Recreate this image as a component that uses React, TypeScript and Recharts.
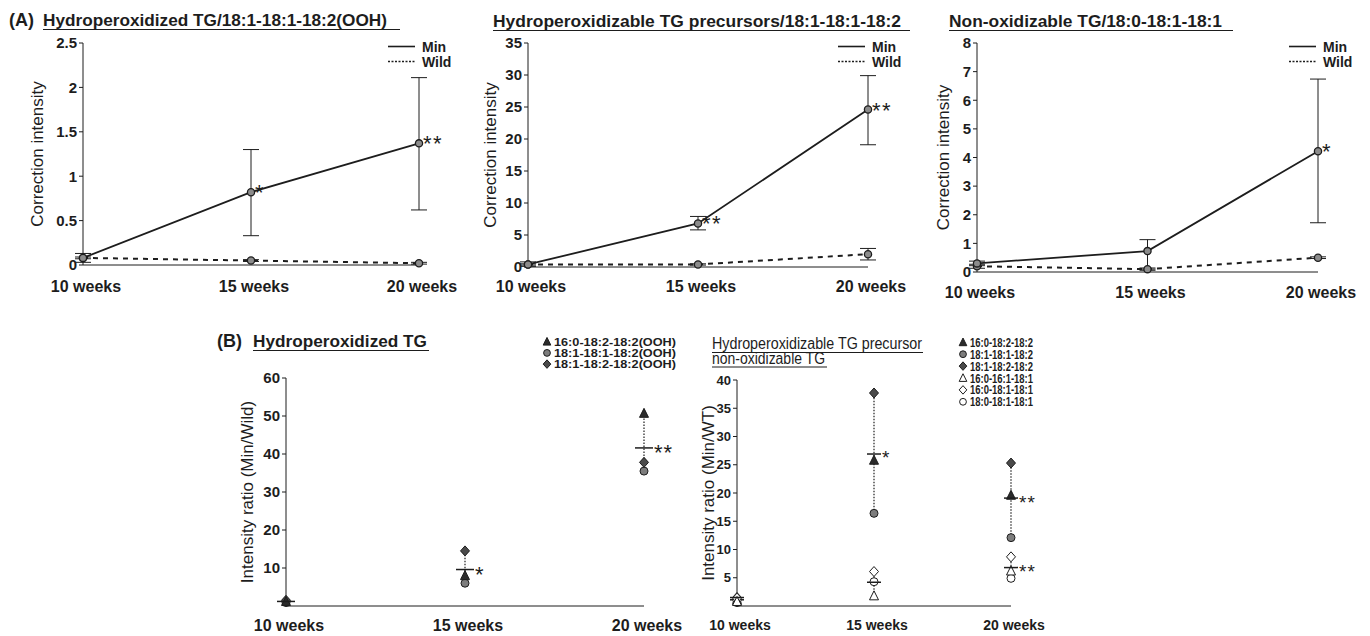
import { ComposedChart, Line, Scatter, XAxis, YAxis, ErrorBar } from 'recharts'

const FONT = '"Liberation Sans", Arial, Helvetica, sans-serif'
const INK = '#1d1d1d'

// x axis: time points
const weeks = [10, 15, 20]
const weekNames = ['10 weeks', '15 weeks', '20 weeks']
const groupNames = ['Min', 'Wild']

// (A) left panel: hydroperoxidized TG
const a1Min = [0.08, 0.82, 1.37]
const a1MinLo = [0.03, 0.33, 0.62]
const a1MinHi = [0.13, 1.3, 2.11]
const a1Wild = [0.08, 0.05, 0.02]
const a1WildLo = [0.07, 0.04, 0.01]
const a1WildHi = [0.09, 0.06, 0.03]
const a1Stars = ['', '*', '**']
const a1Ticks = [0, 0.5, 1, 1.5, 2, 2.5]

// (A) middle panel: precursors
const a2Min = [0.4, 6.8, 24.6]
const a2MinLo = [0.1, 5.8, 19.1]
const a2MinHi = [0.8, 7.9, 29.9]
const a2Wild = [0.4, 0.4, 2.0]
const a2WildLo = [0.3, 0.3, 1.1]
const a2WildHi = [0.5, 0.5, 2.9]
const a2Stars = ['', '**', '**']
const a2Ticks = [0, 5, 10, 15, 20, 25, 30, 35]

// (A) right panel: non-oxidizable
const a3Min = [0.3, 0.73, 4.22]
const a3MinLo = [0.22, 0.1, 1.72]
const a3MinHi = [0.38, 1.13, 6.74]
const a3Wild = [0.2, 0.1, 0.5]
const a3WildLo = [0.13, 0.06, 0.47]
const a3WildHi = [0.27, 0.14, 0.53]
const a3Stars = ['', '', '*']
const a3Ticks = [0, 1, 2, 3, 4, 5, 6, 7, 8]

// (B) left: ratio Min/Wild, hydroperoxidized species
const b1Names = ['16:0-18:2-18:2(OOH)', '18:1-18:1-18:2(OOH)', '18:1-18:2-18:2(OOH)']
const b1Tri = [1.2, 8.0, 50.7]
const b1Circ = [0.9, 6.0, 35.5]
const b1Dia = [1.5, 14.5, 37.8]
const b1Mean = [1.2, 9.6, 41.6]
const b1Stars = ['', '*', '**']
const b1Ticks = [10, 20, 30, 40, 50, 60]

// (B) right: precursors (filled) and non-oxidizable (open)
const b2Names = ['16:0-18:2-18:2', '18:1-18:1-18:2', '18:1-18:2-18:2', '16:0-16:1-18:1', '16:0-18:1-18:1', '18:0-18:1-18:1']
const b2Tri = [1.0, 25.8, 19.6]
const b2Circ = [0.6, 16.4, 12.1]
const b2Dia = [1.5, 37.7, 25.3]
const b2Mean = [1.1, 26.9, 19.1]
const b2Stars = ['', '*', '**']
const b2OpenTri = [0.8, 1.8, 6.2]
const b2OpenDia = [1.4, 6.1, 8.7]
const b2OpenCirc = [1.0, 4.3, 4.9]
const b2OpenMean = [1.5, 4.2, 6.8]
const b2OpenStars = ['', '', '**']
const b2Ticks = [5, 10, 15, 20, 25, 30, 35, 40]

const lineRows = (min: number[], lo: number[], hi: number[], wild: number[], wLo: number[], wHi: number[], stars: string[]) =>
  weeks.map((week, i) => ({
    week,
    min: min[i],
    minErr: [min[i] - lo[i], hi[i] - min[i]],
    wild: wild[i],
    wildErr: [wild[i] - wLo[i], wHi[i] - wild[i]],
    star: stars[i],
  }))

const groupRows = (p: string, tri: number[], circ: number[], dia: number[], mean: number[], stars: string[]) =>
  weeks.map((week, i) => {
    const lo = Math.min(tri[i], circ[i], dia[i])
    const hi = Math.max(tri[i], circ[i], dia[i])
    return {
      week,
      [p + 'tri']: tri[i],
      [p + 'circ']: circ[i],
      [p + 'dia']: dia[i],
      [p + 'mean']: mean[i],
      [p + 'mid']: (lo + hi) / 2,
      [p + 'span']: [(hi - lo) / 2, (hi - lo) / 2],
      [p + 'star']: stars[i],
    }
  })

const a1Rows = lineRows(a1Min, a1MinLo, a1MinHi, a1Wild, a1WildLo, a1WildHi, a1Stars)
const a2Rows = lineRows(a2Min, a2MinLo, a2MinHi, a2Wild, a2WildLo, a2WildHi, a2Stars)
const a3Rows = lineRows(a3Min, a3MinLo, a3MinHi, a3Wild, a3WildLo, a3WildHi, a3Stars)
const b1Rows = groupRows('f', b1Tri, b1Circ, b1Dia, b1Mean, b1Stars)
const b2Filled = groupRows('f', b2Tri, b2Circ, b2Dia, b2Mean, b2Stars)
const b2Open = groupRows('o', b2OpenTri, b2OpenCirc, b2OpenDia, b2OpenMean, b2OpenStars)
const b2Rows = weeks.map((_, i) => ({ ...b2Filled[i], ...b2Open[i] }))

const tickFont = (size: number) => ({ fill: INK, fontSize: size, fontWeight: 700, fontFamily: FONT })

function mark(kind: string, cx: number, cy: number, open: boolean, s = 1) {
  const fill = open ? '#fff' : kind === 'tri' ? '#2b2b2b' : kind === 'dia' ? '#4a4a4a' : '#7d7d7d'
  if (kind === 'tri')
    return <polygon points={`${cx},${cy - 5 * s} ${cx + 4.5 * s},${cy + 4 * s} ${cx - 4.5 * s},${cy + 4 * s}`} fill={fill} stroke={INK} strokeWidth={1} />
  if (kind === 'dia')
    return <polygon points={`${cx},${cy - 5 * s} ${cx + 4.5 * s},${cy} ${cx},${cy + 5 * s} ${cx - 4.5 * s},${cy}`} fill={fill} stroke={INK} strokeWidth={1} />
  return <circle cx={cx} cy={cy} r={4 * s} fill={fill} stroke={INK} strokeWidth={1} />
}

function AxisTitle({ x, y, text }: { x: number; y: number; text: string }) {
  return (
    <text x={x} y={y} transform={`rotate(-90 ${x} ${y})`} textAnchor="middle" dominantBaseline="central"
      fontSize={17} fill={INK} fontFamily={FONT}>
      {text}
    </text>
  )
}

const lineDot = (withStars: boolean) => (p: any) => (
  <g key={`dot-${withStars ? 'm' : 'w'}-${p.index}`}>
    <circle cx={p.cx} cy={p.cy} r={3.6} fill="#8c8c8c" stroke={INK} strokeWidth={1.3} />
    {withStars && p.payload?.star ? (
      <text x={p.cx + 4} y={p.cy + 8} fontSize={22} fill={INK} fontFamily={FONT} letterSpacing={1.5}>
        {p.payload.star}
      </text>
    ) : null}
  </g>
)

function LinePanel({ left, width, margin, yWidth, titleX, rows, yMax, ticks, tickMargin }: any) {
  const height = 310
  const mid = margin.top + (height - margin.top - margin.bottom - 30) / 2
  return (
    <div style={{ position: 'absolute', left, top: 0 }}>
      <ComposedChart width={width} height={height} data={rows} margin={margin}>
        <XAxis dataKey="week" type="number" domain={[10, 20]} ticks={weeks} interval={0} height={30}
          tickFormatter={(v) => weekNames[weeks.indexOf(v)]} tickLine={false} tickSize={0} tickMargin={tickMargin}
          axisLine={{ stroke: INK, strokeWidth: 1 }} tick={{ ...tickFont(16), dx: 3 }} />
        <YAxis type="number" domain={[0, yMax]} ticks={ticks} interval={0} width={yWidth}
          tickSize={4} tickMargin={2} axisLine={{ stroke: INK, strokeWidth: 1 }} tickLine={{ stroke: INK }}
          tick={tickFont(15)}
          label={{ content: () => <AxisTitle x={titleX} y={mid} text="Correction intensity" /> }} />
        <Line dataKey="wild" name={groupNames[1]} type="linear" stroke={INK} strokeWidth={2} strokeDasharray="5 5"
          dot={lineDot(false)} activeDot={false} isAnimationActive={false}>
          <ErrorBar dataKey="wildErr" width={8} stroke={INK} strokeWidth={1} direction="y" />
        </Line>
        <Line dataKey="min" name={groupNames[0]} type="linear" stroke={INK} strokeWidth={1.8}
          dot={lineDot(true)} activeDot={false} isAnimationActive={false}>
          <ErrorBar dataKey="minErr" width={8} stroke={INK} strokeWidth={1} direction="y" />
        </Line>
      </ComposedChart>
    </div>
  )
}

function groupSeries(p: string, open: boolean, half: number, starSize: number) {
  return [
    <Scatter key={p + 'range'} dataKey={p + 'mid'} shape={() => <g />} isAnimationActive={false}>
      <ErrorBar dataKey={p + 'span'} width={0} stroke={INK} strokeWidth={1.2} strokeDasharray="1.5 1.5" direction="y" />
    </Scatter>,
    <Scatter key={p + 'circ'} dataKey={p + 'circ'} shape={(s: any) => mark('circ', s.cx, s.cy, open)} isAnimationActive={false} />,
    <Scatter key={p + 'dia'} dataKey={p + 'dia'} shape={(s: any) => mark('dia', s.cx, s.cy, open)} isAnimationActive={false} />,
    <Scatter key={p + 'tri'} dataKey={p + 'tri'} shape={(s: any) => mark('tri', s.cx, s.cy, open)} isAnimationActive={false} />,
    <Scatter key={p + 'mean'} dataKey={p + 'mean'} isAnimationActive={false}
      shape={(s: any) => (
        <g>
          <line x1={s.cx - half} x2={s.cx + half} y1={s.cy} y2={s.cy} stroke={INK} strokeWidth={1.5} />
          {s.payload?.[p + 'star'] ? (
            <text x={s.cx + half + 1} y={s.cy + starSize * 0.55} fontSize={starSize} fill={INK} fontFamily={FONT} letterSpacing={1}>
              {s.payload[p + 'star']}
            </text>
          ) : null}
        </g>
      )} />,
  ]
}

function RatioPanel({ left, width, margin, yWidth, titleX, title, rows, yMax, ticks, xFont, yFont, half, starSize, withOpen }: any) {
  const height = 340
  const mid = margin.top + (height - margin.top - margin.bottom - 30) / 2
  return (
    <div style={{ position: 'absolute', left, top: 310 }}>
      <ComposedChart width={width} height={height} data={rows} margin={margin}>
        <XAxis dataKey="week" type="number" domain={[10, 20]} ticks={weeks} interval={0} height={30}
          tickFormatter={(v) => weekNames[weeks.indexOf(v)]} tickLine={false} tickSize={0} tickMargin={14}
          axisLine={{ stroke: INK, strokeWidth: 1 }} tick={{ ...tickFont(xFont), dx: 3 }} />
        <YAxis type="number" domain={[0, yMax]} ticks={ticks} interval={0} width={yWidth}
          tickSize={4} tickMargin={2} axisLine={{ stroke: INK, strokeWidth: 1 }} tickLine={{ stroke: INK }}
          tick={tickFont(yFont)}
          label={{ content: () => <AxisTitle x={titleX} y={mid} text={title} /> }} />
        {groupSeries('f', false, half, starSize)}
        {withOpen ? groupSeries('o', true, half, starSize) : null}
      </ComposedChart>
    </div>
  )
}

// a heading of one or more underlined lines, drawn as one text element
function Heading({ x, y, lines, lens, lineTo, gap = 14, size = 17, weight = 700 }: any) {
  return (
    <g>
      <text fontSize={size} fontWeight={weight} fill={INK} fontFamily={FONT}>
        {lines.map((ln: string, i: number) => (
          <tspan key={ln} x={x} y={y + i * gap} textLength={lens[i]} lengthAdjust="spacingAndGlyphs">{ln}</tspan>
        ))}
      </text>
      {lines.map((ln: string, i: number) => (
        <line key={ln} x1={x} x2={lineTo[i]} y1={y + i * gap + 3.5} y2={y + i * gap + 3.5} stroke={INK} strokeWidth={1.2} />
      ))}
    </g>
  )
}

function LineKey({ x, y }: { x: number; y: number }) {
  return (
    <g>
      <line x1={x} x2={x + 27} y1={y} y2={y} stroke={INK} strokeWidth={1.6} />
      <text x={x + 34} y={y + 5} fontSize={14} fontWeight={700} fill={INK} fontFamily={FONT}>{groupNames[0]}</text>
      <line x1={x} x2={x + 27} y1={y + 15} y2={y + 15} stroke={INK} strokeWidth={1.5} strokeDasharray="2 1.5" />
      <text x={x + 34} y={y + 20} fontSize={14} fontWeight={700} fill={INK} fontFamily={FONT}>{groupNames[1]}</text>
    </g>
  )
}

function MarkerKey({ x, y, step, names, kinds, size, len }: any) {
  return (
    <g>
      {names.map((name: string, i: number) => (
        <g key={name + i}>{mark(kinds[i].kind, x, y + i * step, kinds[i].open, 0.85)}</g>
      ))}
      <text fontSize={size} fontWeight={700} fill={INK} fontFamily={FONT}>
        {names.map((name: string, i: number) => (
          <tspan key={name} x={x + 7} y={y + i * step + size * 0.36} textLength={len} lengthAdjust="spacingAndGlyphs">{name}</tspan>
        ))}
      </text>
    </g>
  )
}

const filledKinds = [
  { kind: 'tri', open: false },
  { kind: 'circ', open: false },
  { kind: 'dia', open: false },
]
const allKinds = [...filledKinds, { kind: 'tri', open: true }, { kind: 'dia', open: true }, { kind: 'circ', open: true }]

export default function App() {
  return (
    <div style={{ position: 'absolute', left: 0, top: 0, width: 1370, height: 636, overflow: 'hidden', background: '#fff', fontFamily: FONT }}>
      <LinePanel left={0} width={460} margin={{ top: 43, right: 41, bottom: 15, left: 0 }} yWidth={83} titleX={37}
        rows={a1Rows} yMax={2.5} ticks={a1Ticks} tickMargin={16} />
      <LinePanel left={455} width={455} margin={{ top: 43, right: 42, bottom: 13, left: 0 }} yWidth={73} titleX={35}
        rows={a2Rows} yMax={35} ticks={a2Ticks} tickMargin={14} />
      <LinePanel left={910} width={460} margin={{ top: 43, right: 52, bottom: 8, left: 0 }} yWidth={67} titleX={33}
        rows={a3Rows} yMax={8} ticks={a3Ticks} tickMargin={15} />
      <RatioPanel left={200} width={500} margin={{ top: 68, right: 56, bottom: 14, left: 0 }} yWidth={86} titleX={47}
        title="Intensity ratio (Min/Wild)" rows={b1Rows} yMax={60} ticks={b1Ticks} xFont={16} yFont={15} half={9} starSize={22} />
      <RatioPanel left={680} width={690} margin={{ top: 70, right: 359, bottom: 14, left: 0 }} yWidth={57} titleX={28}
        title="Intensity ratio (Min/WT)" rows={b2Rows} yMax={40} ticks={b2Ticks} xFont={14} yFont={13} half={7} starSize={19} withOpen />
      <svg width={1370} height={636} style={{ position: 'absolute', left: 0, top: 0, pointerEvents: 'none' }}>
        <text x={9} y={26} fontSize={18} fontWeight={700} fill={INK} fontFamily={FONT}>(A)</text>
        <Heading x={43} y={26} lens={[344]} lineTo={[400]} lines={['Hydroperoxidized TG/18:1-18:1-18:2(OOH)']} />
        <Heading x={493} y={27} lens={[408]} lineTo={[910]} lines={['Hydroperoxidizable TG precursors/18:1-18:1-18:2']} />
        <Heading x={949} y={27} lens={[273]} lineTo={[1233]} lines={['Non-oxidizable TG/18:0-18:1-18:1']} />
        <LineKey x={388} y={46.5} />
        <LineKey x={838} y={46.5} />
        <LineKey x={1289} y={46.5} />
        <text x={217} y={347} fontSize={18} fontWeight={700} fill={INK} fontFamily={FONT}>(B)</text>
        <Heading x={253} y={347} lens={[174]} lineTo={[429]} lines={['Hydroperoxidized TG']} />
        <Heading x={712} y={349} gap={14.5} lens={[210, 113]} lineTo={[923, 827]} size={16} weight={400}
          lines={['Hydroperoxidizable TG precursor', 'non-oxidizable TG']} />
        <MarkerKey x={547} y={341.7} step={11.2} names={b1Names} kinds={filledKinds} size={11} len={122} />
        <MarkerKey x={963} y={342.3} step={11.9} names={b2Names} kinds={allKinds} size={12.5} len={63} />
      </svg>
    </div>
  )
}
